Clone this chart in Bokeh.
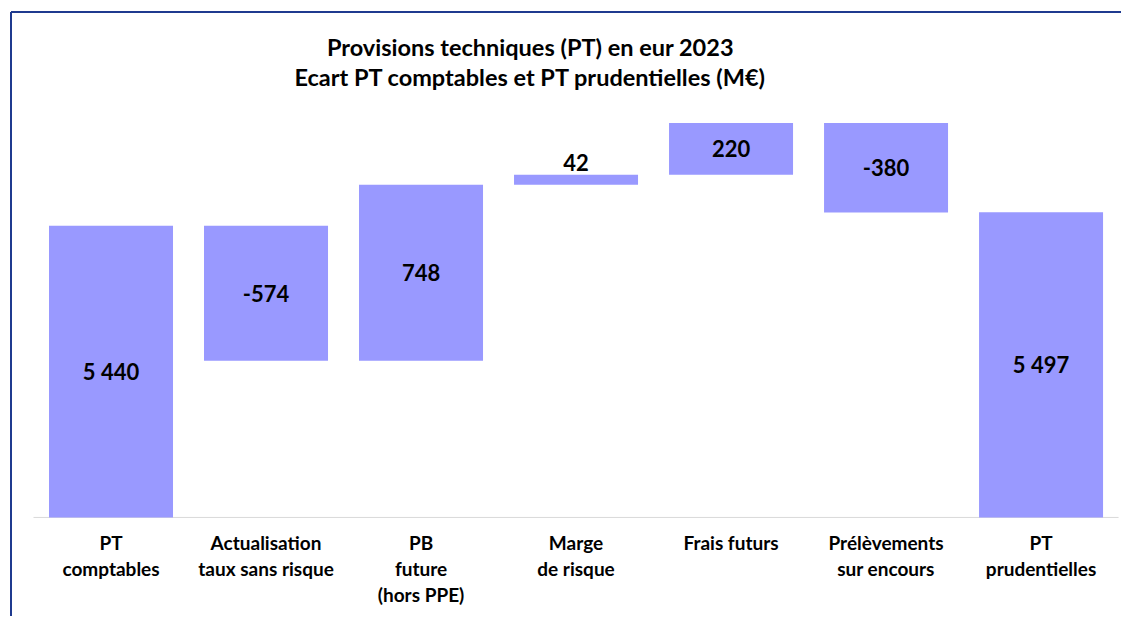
import numpy as np
from bokeh.plotting import figure
from bokeh.models import Range1d, ColumnDataSource
from bokeh.core.properties import value
from bokeh.embed import file_html
from bokeh.resources import INLINE

# ---- data ----
categories = ["PT\ncomptables", "Actualisation\ntaux sans risque", "PB\nfuture\n(hors PPE)",
              "Marge\nde risque", "Frais futurs", "Prélèvements\nsur encours", "PT\nprudentielles"]
values = [5440, -574, 748, 42, 220, -380, 5497]
is_total = [True, False, False, False, False, False, True]
title_lines = ["Provisions techniques (PT) en eur 2023", "Ecart PT comptables et PT prudentielles (M€)"]
axis_min = 4200

# ---- waterfall geometry from data ----
x = list(range(len(categories)))
bottoms, tops = [], []
running = 0
for v, tot in zip(values, is_total):
    if tot:
        b, t = axis_min, v
        running = v
    else:
        start = running
        running = running + v
        b, t = min(start, running), max(start, running)
    bottoms.append(b)
    tops.append(t)

def fmt(v):
    s = f"{abs(v):,}".replace(",", " ")
    return ("-" if v < 0 else "") + s

labels = [fmt(v) for v in values]

FONT = "Lato"
BAR = "#9999FF"
NAVY = "#1F3A8F"

X0, X1 = -0.7129, 6.519
Y0, Y1 = 3779, 6397

p = figure(width=1121, height=616, output_backend="svg", toolbar_location=None,
           x_range=Range1d(X0, X1), y_range=Range1d(Y0, Y1),
           x_axis_type=None, y_axis_type=None,
           min_border_left=0, min_border_top=0, min_border_right=0, min_border_bottom=0)
p.grid.visible = False
p.outline_line_color = None
p.background_fill_color = "white"
p.border_fill_color = "white"

# chart frame (top and left edges)
bx = X0 + 10.5 / 155.0
by = Y1 - 11.5 / 0.2353
p.segment(x0=[bx, bx], x1=[X1, bx], y0=[by, by], y1=[by, Y0],
          line_color=NAVY, line_width=2)

src = ColumnDataSource(dict(x=x, bottom=bottoms, top=tops, label=labels,
                            mid=[(b + t) / 2 for b, t in zip(bottoms, tops)],
                            cat=categories))

# baseline
p.segment(x0=[x[0] - 0.5], x1=[x[-1] + 0.5], y0=[axis_min], y1=[axis_min],
          line_color="#D9D9D9", line_width=1)

p.vbar(x="x", width=0.8, bottom="bottom", top="top", source=src,
       fill_color=BAR, line_color=None)

# value labels: inside for big bars, above for thin ones
thin = [abs(t - b) < 100 for b, t in zip(bottoms, tops)]
inside = ColumnDataSource(dict(x=[xi for xi, th in zip(x, thin) if not th],
                               y=[m for m, th in zip(src.data["mid"], thin) if not th],
                               t=[l for l, th in zip(labels, thin) if not th]))
above = ColumnDataSource(dict(x=[xi for xi, th in zip(x, thin) if th],
                              y=[tp for tp, th in zip(tops, thin) if th],
                              t=[l for l, th in zip(labels, thin) if th]))
p.text(x="x", y="y", text="t", source=inside, text_align="center", text_baseline="middle",
       text_font=value(FONT), text_font_style="bold", text_font_size="22px", text_color="black")
p.text(x="x", y="y", text="t", source=above, text_align="center", text_baseline="bottom",
       y_offset=-4, text_font=value(FONT), text_font_style="bold", text_font_size="22px",
       text_color="black")

# category labels
p.text(x="x", y=axis_min, text="cat", source=src, text_align="center", text_baseline="top",
       y_offset=14, text_font=value(FONT), text_font_style="bold", text_font_size="19px",
       text_line_height=1.12, text_color="black")

# title
p.text(x=[2.706], y=[6135], text=["\n".join(title_lines)], text_align="center",
       text_baseline="middle", text_font=value(FONT), text_font_style="bold",
       text_font_size="23.5px", text_line_height=1.06, text_color="black")

open("out.html", "w").write(file_html(p, INLINE))
